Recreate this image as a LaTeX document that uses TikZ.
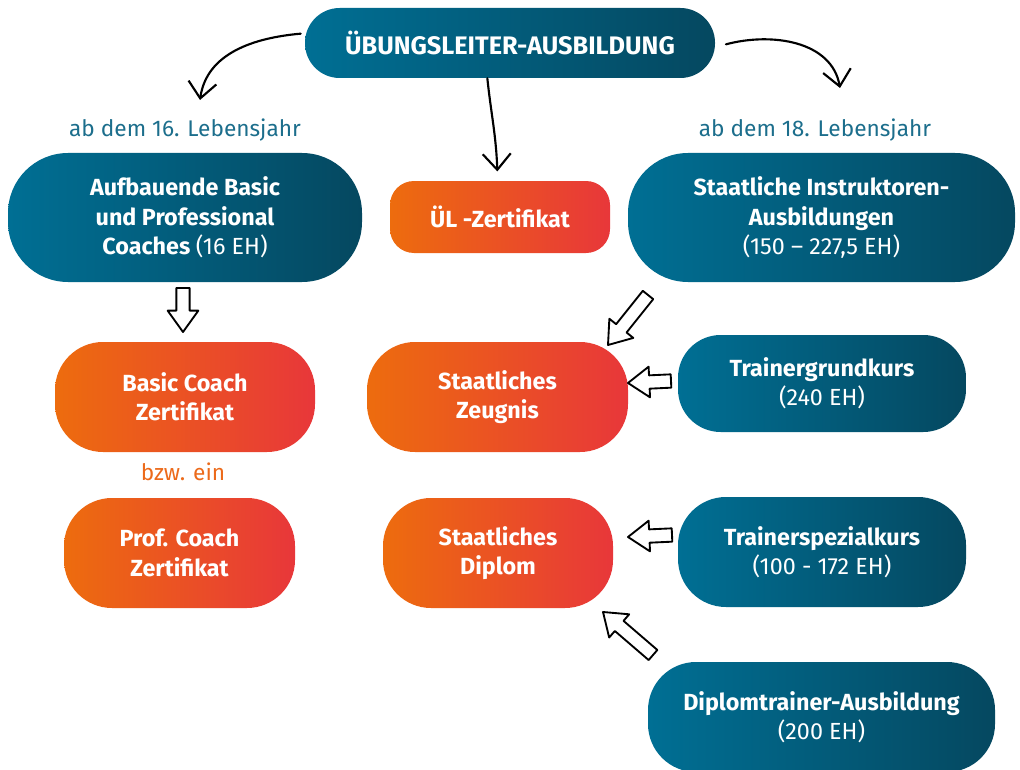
\documentclass[tikz,border=0pt]{standalone}
\usepackage{fontspec}
\setmainfont{Fira Sans}
\usetikzlibrary{calc,arrows.meta}
\definecolor{petrol}{RGB}{0,111,148}
\definecolor{petroldark}{RGB}{5,72,96}
\definecolor{orangelight}{RGB}{237,108,14}
\definecolor{orangered}{RGB}{232,55,58}
\definecolor{labelblue}{RGB}{28,110,140}
\definecolor{labelorange}{RGB}{236,106,26}
\newcommand{\boxfont}{\fontsize{17.5}{22}\selectfont\bfseries}
\newcommand{\titlefont}{\fontsize{19}{23}\selectfont\bfseries}
\newcommand{\labelfont}{\fontsize{17}{20}\selectfont}
\tikzset{>={Straight Barb[length=12pt,width=21pt]}}
\tikzset{%
    bluebox/.style={%
        rounded corners=#1, left color=petrol, right color=petroldark,
        text=white, align=center, font=\boxfont, inner sep=0pt},
    orangebox/.style={%
        rounded corners=#1, left color=orangelight, right color=orangered,
        text=white, align=center, font=\boxfont, inner sep=0pt},
    agelabel/.style={font=\labelfont, text=#1},
    handarrow/.style={->, line width=1.6pt, line cap=round, line join=round},
    blockarrow/.style={%
        draw=black, fill=white, line width=1.4pt, line join=round,
        to path={let \p1=(\tikztostart), \p2=(\tikztotarget),
            \n1={atan2(\y2-\y1,\x2-\x1)} in
            ($(\p1)+(\n1+90:5pt)$)
            -- ($(\p2)+(\n1+180:16pt)+(\n1+90:5pt)$)
            -- ($(\p2)+(\n1+180:16pt)+(\n1+90:11.5pt)$)
            -- (\p2)
            -- ($(\p2)+(\n1+180:16pt)+(\n1-90:11.5pt)$)
            -- ($(\p2)+(\n1+180:16pt)+(\n1-90:5pt)$)
            -- ($(\p1)+(\n1-90:5pt)$) -- cycle}}
}

\begin{document}
\begin{tikzpicture}[x=0.75pt,y=-0.75pt]
    \useasboundingbox (0,0) rectangle (1020,770);
    \clip (0,0) rectangle (1020,770);
    % boxes
    \node[bluebox=26pt,minimum width=307.5pt,minimum height=52.5pt,font=\titlefont] (ubl) at (510,43) {ÜBUNGSLEITER-AUSBILDUNG};
    \node[bluebox=45pt,minimum width=265.5pt,minimum height=96.75pt] (aufbau) at (185,217.5) {Aufbauende Basic\\und Professional\\Coaches {\mdseries(16 EH)}};
    \node[orangebox=18pt,minimum width=165pt,minimum height=54pt] (ulz) at (500,217) {ÜL -Zertifikat};
    \node[bluebox=45pt,minimum width=290.25pt,minimum height=96.75pt] (instr) at (821.5,217.5) {Staatliche Instruktoren-\\Ausbildungen\\{\mdseries(150 – 227,5 EH)}};
    \node[orangebox=36pt,minimum width=195pt,minimum height=82.5pt] (basic) at (185,397) {Basic Coach\\Zertifikat};
    \node[orangebox=36pt,minimum width=195.75pt,minimum height=82.5pt] (zeugnis) at (497.5,397) {Staatliches\\Zeugnis};
    \node[bluebox=32pt,minimum width=216pt,minimum height=72.75pt] (grund) at (822,383.5) {Trainergrundkurs\\{\mdseries(240 EH)}};
    \node[orangebox=36pt,minimum width=173.25pt,minimum height=82.5pt] (prof) at (179.5,553) {Prof. Coach\\Zertifikat};
    \node[orangebox=36pt,minimum width=172.5pt,minimum height=82.5pt] (diplom) at (498,553) {Staatliches\\Diplom};
    \node[bluebox=36pt,minimum width=216pt,minimum height=82.5pt] (spezial) at (822,552) {Trainerspezialkurs\\{\mdseries(100 - 172 EH)}};
    \node[bluebox=36pt,minimum width=260.25pt,minimum height=82.5pt] (dtrainer) at (821.5,717) {Diplomtrainer-Ausbildung\\{\mdseries(200 EH)}};
    % labels
    \node[agelabel=labelblue] (lab16) at (185,130) {ab dem 16. Lebensjahr};
    \node[agelabel=labelblue] (lab18) at (815,130) {ab dem 18. Lebensjahr};
    \node[agelabel=labelorange] (bzw) at (183,472) {bzw. ein};
    % hand drawn arrows
    \coordinate (c16) at (200,100);
    \coordinate (c18) at (840,88);
    \draw[handarrow] ([xshift=-3pt,yshift=7pt]ubl.west) to[out=185,in=82] (c16);
    \draw[handarrow] ([xshift=8pt,yshift=-1pt]ubl.east) to[out=15,in=100] (c18);
    \draw[handarrow] ([xshift=-17pt]ubl.south) to[out=-84,in=92] ([xshift=-2pt,yshift=7pt]ulz.north);
    % block arrows
    \coordinate (b1s) at (183,288);  \coordinate (b1e) at (183,332);
    \coordinate (b2s) at (648,295);  \coordinate (b2e) at (608,345);
    \coordinate (b3s) at (671,381);  \coordinate (b3e) at (628,383);
    \coordinate (b4s) at (672,535);  \coordinate (b4e) at (628,537);
    \coordinate (b5s) at (653,655);  \coordinate (b5e) at (603,612);
    \foreach \s/\e in {b1s/b1e,b2s/b2e,b3s/b3e,b4s/b4e,b5s/b5e}
        \draw[blockarrow] (\s) to (\e);
\end{tikzpicture}
\end{document}
